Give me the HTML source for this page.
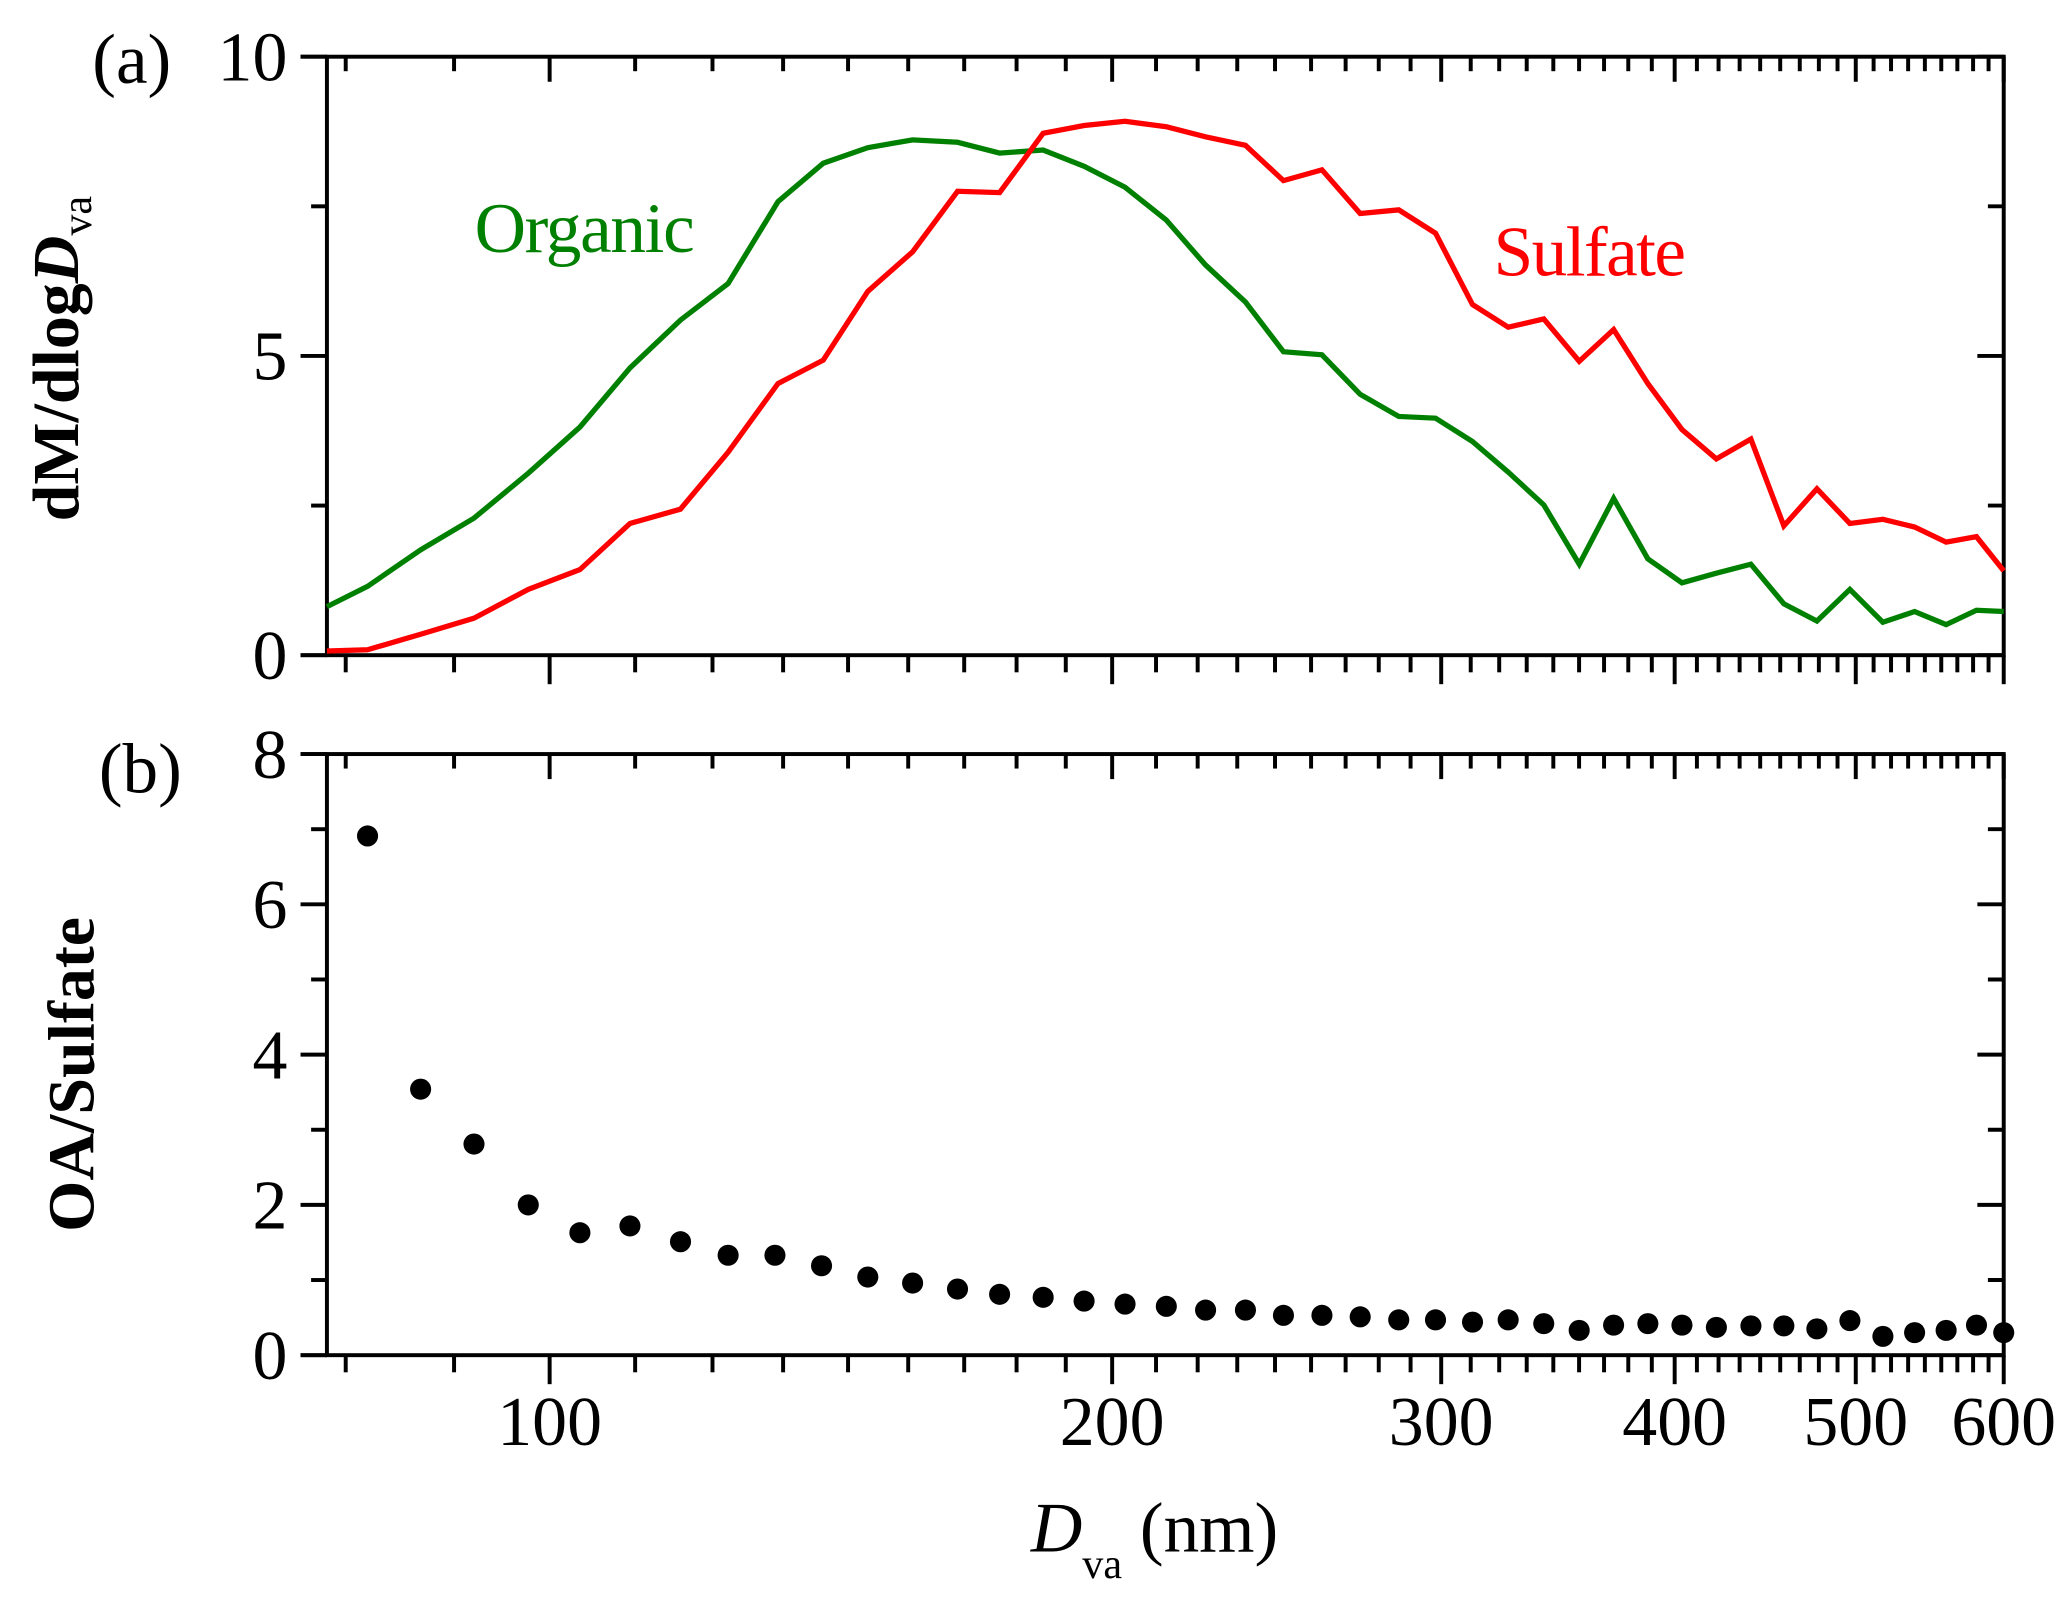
<!DOCTYPE html>
<html><head><meta charset="utf-8"><style>html,body{margin:0;padding:0;background:#fff}svg{display:block}text{font-family:"Liberation Serif",serif}</style></head>
<body>
<svg id="chart" width="2067" height="1605" viewBox="0 0 1568 1217.5" xmlns="http://www.w3.org/2000/svg">
<g id="axes"></g>
<g id="series"></g>
<text x="70" y="63" font-size="54">(a)</text>
<text x="75" y="601" font-size="54">(b)</text>
<text x="360" y="191" font-size="54" fill="#008000" textLength="167">Organic</text>
<text x="1133" y="209" font-size="54" fill="#ff0000" textLength="146">Sulfate</text>
<text transform="translate(59,272) rotate(-90)" text-anchor="middle" font-size="50" font-weight="bold">dM/dlog<tspan font-style="italic">D</tspan><tspan font-size="32" font-weight="normal" dy="10">va</tspan></text>
<text transform="translate(71,815) rotate(-90)" text-anchor="middle" font-size="50" font-weight="bold">OA/Sulfate</text>
<text x="782" y="1177" font-size="54"><tspan font-style="italic">D</tspan><tspan font-size="32" dy="20">va</tspan><tspan dy="-20"> (nm)</tspan></text>
</svg>
<script>
const diam = [76.0,79.9,85.3,91.1,97.4,103.8,110.4,117.5,124.6,132.5,140.1,148.0,156.4,165.3,174.1,183.7,193.2,203.2,213.8,224.4,235.7,247.0,259.0,271.5,284.7,297.9,311.8,325.8,340.4,355.6,371.0,387.0,403.6,421.1,439.4,457.6,476.6,496.4,517.0,537.6,558.9,580.2,600];
const organic = [0.81,1.15,1.76,2.29,3.04,3.81,4.8,5.6,6.21,7.58,8.22,8.48,8.61,8.57,8.39,8.44,8.17,7.82,7.27,6.52,5.9,5.07,5.02,4.36,3.99,3.96,3.57,3.06,2.51,1.52,2.62,1.61,1.21,1.37,1.52,0.86,0.57,1.1,0.55,0.73,0.51,0.75,0.73];
const sulfate = [0.07,0.09,0.35,0.62,1.1,1.43,2.2,2.44,3.39,4.54,4.93,6.08,6.74,7.75,7.73,8.72,8.85,8.92,8.83,8.66,8.52,7.93,8.11,7.38,7.44,7.05,5.86,5.48,5.62,4.91,5.44,4.54,3.77,3.28,3.61,2.16,2.78,2.2,2.27,2.14,1.89,1.98,1.41];
const ratioDiam = [79.9,85.3,91.1,97.4,103.8,110.4,117.5,124.6,132.0,139.8,148.0,156.4,165.3,174.1,183.7,193.2,203.2,213.8,224.4,235.7,247.0,259.0,271.5,284.7,297.9,311.8,325.8,340.4,355.6,371.0,387.0,403.6,421.1,439.4,457.6,476.6,496.4,517.0,537.6,558.9,580.2,600];
const ratio = [6.91,3.54,2.81,2.0,1.63,1.72,1.51,1.33,1.33,1.19,1.04,0.96,0.88,0.81,0.77,0.72,0.68,0.65,0.6,0.6,0.53,0.53,0.51,0.47,0.47,0.44,0.47,0.42,0.33,0.4,0.42,0.4,0.37,0.39,0.39,0.35,0.46,0.25,0.3,0.33,0.4,0.3];
const xTicks = [100,200,300,400,500,600];
const yTicksA = [0,5,10];
const yTicksB = [0,2,4,6,8];

const NS="http://www.w3.org/2000/svg";
const L=248,R=1520,XMIN=76,XMAX=600;
const A={top:43,bot:497,max:10,minor:2.5}, B={top:572,bot:1028,max:8,minor:1};
function x(v){return L+(Math.log10(v)-Math.log10(XMIN))/(Math.log10(XMAX)-Math.log10(XMIN))*(R-L);}
function yA(v){return A.bot-v/A.max*(A.bot-A.top);}
function yB(v){return B.bot-v/B.max*(B.bot-B.top);}
function mk(tag,at,parent){const e=document.createElementNS(NS,tag);for(const k in at)e.setAttribute(k,at[k]);parent.appendChild(e);return e;}
const ax=document.getElementById('axes'), se=document.getElementById('series');
function line(x1,y1,x2,y2,w,name){const e=mk('line',{x1,y1,x2,y2,stroke:'#000','stroke-width':w},ax);

}
function panel(P,yf,yt,nm){
  const r=mk('rect',{x:L,y:P.top,width:R-L,height:P.bot-P.top,fill:'none',stroke:'#000','stroke-width':3},ax);
  
  
  line(L-20,P.top,L,P.top,3,nm+'-axis-ext');line(L-20,P.bot,L,P.bot,3,nm+'-axis-ext');
  for(let v=0;v<=P.max+1e-9;v+=P.minor){const yy=yf(v);const maj=yt.some(t=>Math.abs(t-v)<1e-9);
    line(L-(maj?20:12),yy,L,yy,3,nm+'-y-tick');line(R,yy,R-(maj?20:12),yy,3,nm+'-y-tick-right');}
  yt.forEach(v=>{const t=mk('text',{x:218,y:yf(v)+18,'text-anchor':'end','font-size':53},ax);t.textContent=v;
    
    });
  const majors=[100,200,300,400,500,600];
  let ticks=[];
  [77.78,88.89].forEach(v=>ticks.push([v,false]));
  for(let i=0;i<majors.length;i++){ticks.push([majors[i],true]);if(i<majors.length-1)for(let k=1;k<9;k++)ticks.push([majors[i]+k*(majors[i+1]-majors[i])/9,false]);}
  ticks.forEach(([v,m])=>{const xx=x(v);if(xx<L-1||xx>R+1)return;
    line(xx,P.top,xx,P.top+(m?19:11),3,nm+'-x-tick-top');line(xx,P.bot,xx,P.bot+(m?22:13),3,nm+'-x-tick');});
}
panel(A,yA,yTicksA,'panel-a');panel(B,yB,yTicksB,'panel-b');
xTicks.forEach(v=>{const t=mk('text',{x:x(v),y:1096,'text-anchor':'middle','font-size':53},ax);t.textContent=v;
  
  });
function path(vals,color,nm){const d=vals.map((v,i)=>(i?'L':'M')+x(diam[i]).toFixed(1)+','+yA(v).toFixed(1)).join('');
  const p=mk('path',{d,fill:'none',stroke:color,'stroke-width':4,'stroke-linejoin':'miter'},se);
  
  }
path(organic,'#008000','organic-line');path(sulfate,'#ff0000','sulfate-line');
ratio.forEach((v,i)=>{const c=mk('circle',{cx:x(ratioDiam[i]),cy:yB(v),r:8,fill:'#000'},se);
  
  });
</script>
</body></html>
